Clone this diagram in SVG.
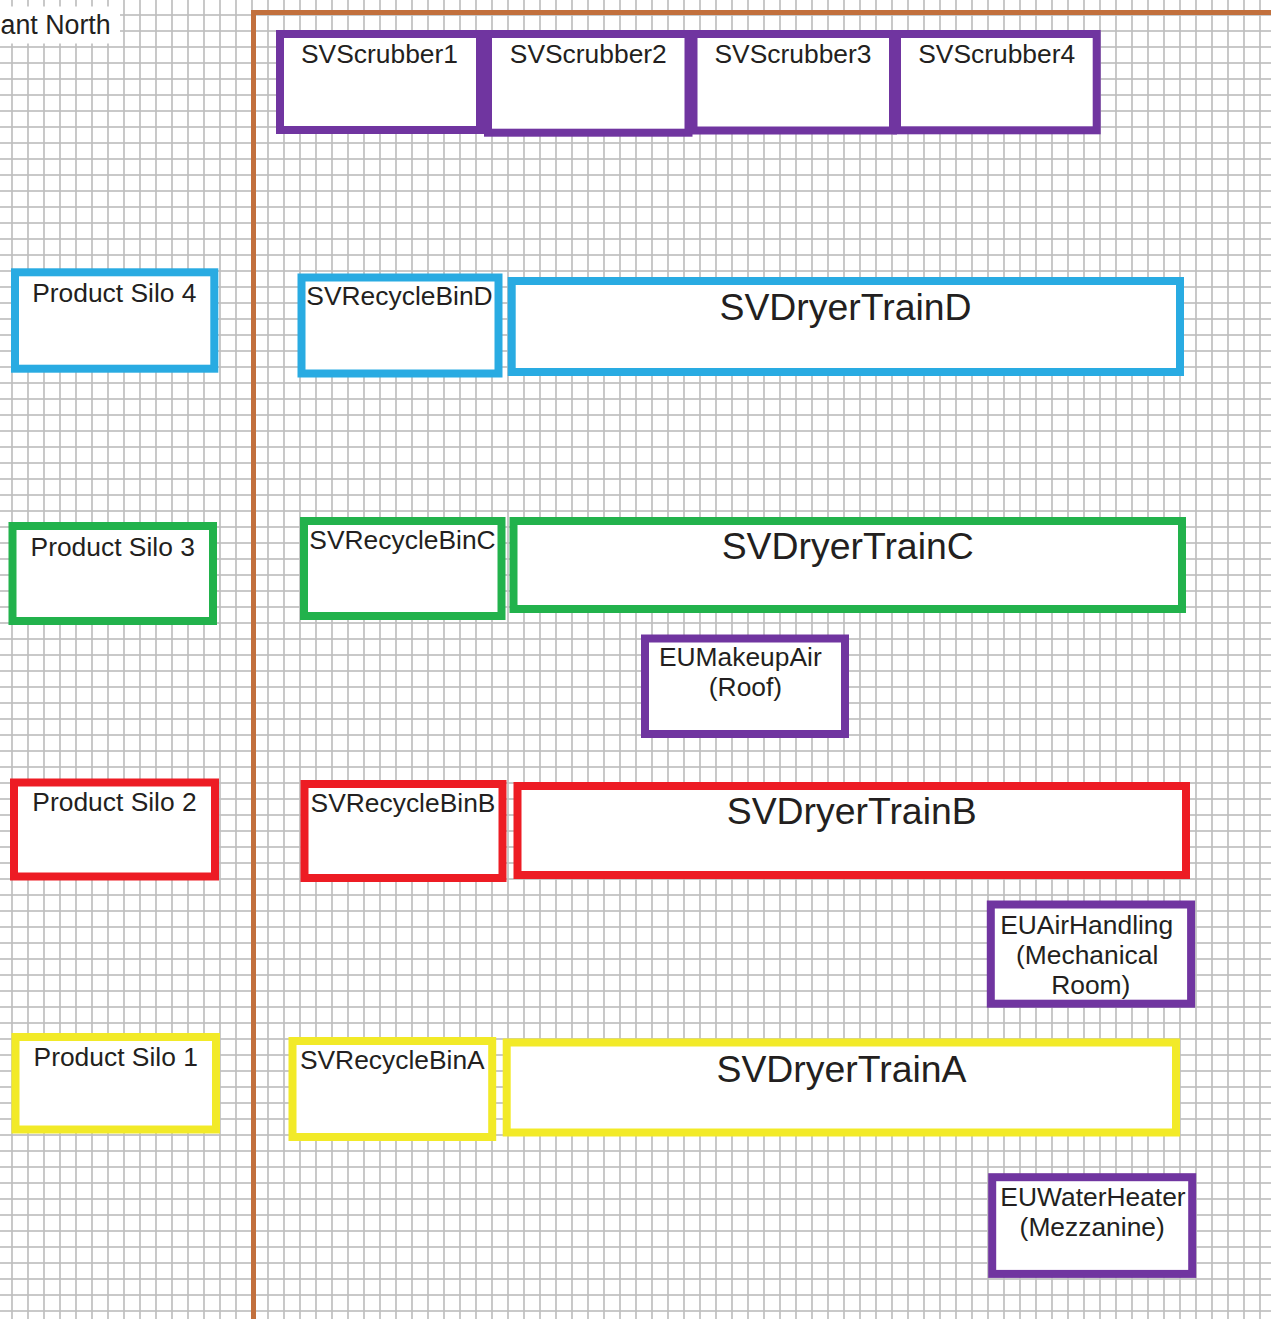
<svg xmlns="http://www.w3.org/2000/svg" width="1271" height="1319" viewBox="0 0 1271 1319">
  <defs>
    <pattern id="grid" patternUnits="userSpaceOnUse" x="0" y="0" width="16" height="16">
      <line x1="12" y1="0" x2="12" y2="16" stroke="#BFBFBF" stroke-width="1.7"/>
      <line x1="0" y1="15" x2="16" y2="15" stroke="#BFBFBF" stroke-width="1.7"/>
    </pattern>
  </defs>
  <style>
    .box { fill: #FFFFFF; stroke-width: 8; }
    .purple { stroke: #7035A0; }
    .blue { stroke: #29ABE2; }
    .green { stroke: #22B24C; }
    .red { stroke: #ED1C24; }
    .yellow { stroke: #F2EA28; }
    .t { font-family: "Liberation Sans", Arial, sans-serif; font-size: 26.4px; fill: #231F20; text-anchor: middle; }
    .big { font-size: 37.4px; }
  </style>
  <rect x="0" y="0" width="1271" height="1319" fill="#FFFFFF"/>
  <rect x="0" y="0" width="1271" height="1319" fill="url(#grid)"/>
  <g id="boundary">
    <path d="M253.5 1319 V12.5 H1271" fill="none" stroke="#C2703D" stroke-width="5"/>
  </g>
  <g id="plant-north">
    <rect x="0" y="6.5" width="120" height="37" fill="#FFFFFF"/>
    <text class="t" x="0.5" y="34.3" style="text-anchor:start;font-size:26.8px">ant North</text>
  </g>
  <g id="connectors"/>

  <g id="SVScrubber1">
    <rect class="box purple" x="280" y="34" width="200" height="96"/>
    <text class="t" x="379.5" y="62.5">SVScrubber1</text>
  </g>
  <g id="SVScrubber2">
    <rect class="box purple" x="488" y="34" width="200.5" height="98.7"/>
    <text class="t" x="588.3" y="62.5">SVScrubber2</text>
  </g>
  <g id="SVScrubber3">
    <rect class="box purple" x="693.5" y="34" width="199.5" height="96.5"/>
    <text class="t" x="793" y="62.5">SVScrubber3</text>
  </g>
  <g id="SVScrubber4">
    <rect class="box purple" x="897" y="34" width="199.7" height="96.3"/>
    <text class="t" x="996.7" y="62.5">SVScrubber4</text>
  </g>

  <g id="ProductSilo4">
    <rect class="box blue" x="15" y="272.3" width="199.3" height="96.4"/>
    <text class="t" x="114.3" y="301.7">Product Silo 4</text>
  </g>
  <g id="ProductSilo3">
    <rect class="box green" x="12.5" y="526" width="200.5" height="95"/>
    <text class="t" x="112.7" y="555.5">Product Silo 3</text>
  </g>
  <g id="ProductSilo2">
    <rect class="box red" x="14" y="782.5" width="201" height="94"/>
    <text class="t" x="114.5" y="811">Product Silo 2</text>
  </g>
  <g id="ProductSilo1">
    <rect class="box yellow" x="15.5" y="1037" width="200.5" height="92.5"/>
    <text class="t" x="115.7" y="1065.5">Product Silo 1</text>
  </g>

  <g id="SVRecycleBinD">
    <rect class="box blue" x="301.5" y="277.5" width="197" height="96"/>
    <text class="t" x="399.5" y="305">SVRecycleBinD</text>
  </g>
  <g id="SVRecycleBinC">
    <rect class="box green" x="304" y="521" width="197.5" height="95"/>
    <text class="t" x="402.5" y="549">SVRecycleBinC</text>
  </g>
  <g id="SVRecycleBinB">
    <rect class="box red" x="304.5" y="784" width="198" height="94"/>
    <text class="t" x="403" y="812">SVRecycleBinB</text>
  </g>
  <g id="SVRecycleBinA">
    <rect class="box yellow" x="292.5" y="1041" width="199.7" height="96"/>
    <text class="t" x="392.3" y="1069.3">SVRecycleBinA</text>
  </g>

  <g id="SVDryerTrainD">
    <rect class="box blue" x="511.7" y="281" width="668.3" height="91"/>
    <text class="t big" x="845.5" y="320">SVDryerTrainD</text>
  </g>
  <g id="SVDryerTrainC">
    <rect class="box green" x="513.5" y="521" width="668.5" height="88"/>
    <text class="t big" x="847.7" y="559">SVDryerTrainC</text>
  </g>
  <g id="SVDryerTrainB">
    <rect class="box red" x="517.5" y="786" width="668.5" height="89"/>
    <text class="t big" x="851.7" y="824">SVDryerTrainB</text>
  </g>
  <g id="SVDryerTrainA">
    <rect class="box yellow" x="506.7" y="1042.5" width="669.3" height="90"/>
    <text class="t big" x="841.5" y="1082">SVDryerTrainA</text>
  </g>

  <g id="EUMakeupAir">
    <rect class="box purple" x="645" y="638.5" width="200" height="95.5"/>
    <text class="t" x="740.3" y="665.7">EUMakeupAir</text>
    <text class="t" x="745.5" y="696">(Roof)</text>
  </g>
  <g id="EUAirHandling">
    <rect class="box purple" x="990.8" y="904.5" width="200.3" height="99.2"/>
    <text class="t" x="1086.7" y="934.3">EUAirHandling</text>
    <text class="t" x="1087.2" y="964">(Mechanical</text>
    <text class="t" x="1090.8" y="994">Room)</text>
  </g>
  <g id="EUWaterHeater">
    <rect class="box purple" x="992.2" y="1177.2" width="200" height="96.7"/>
    <text class="t" x="1093" y="1205.7">EUWaterHeater</text>
    <text class="t" x="1092.2" y="1235.5">(Mezzanine)</text>
  </g>
</svg>
